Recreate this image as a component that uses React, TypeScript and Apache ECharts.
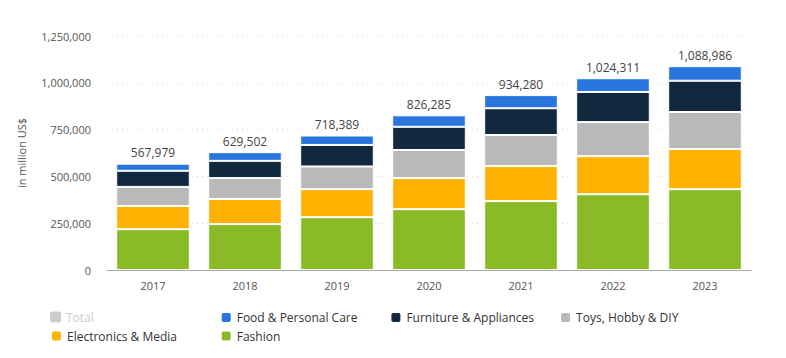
import React, { useEffect, useRef } from "react";
import * as echarts from "echarts";

const years = ["2017", "2018", "2019", "2020", "2021", "2022", "2023"];
const totals = [567979, 629502, 718389, 826285, 934280, 1024311, 1088986];
const fashion = [218000, 245000, 282000, 325000, 368000, 405000, 432000];
const electronics = [124000, 134000, 150000, 166000, 187000, 203000, 214000];
const toys = [102000, 112000, 121000, 150000, 166000, 182000, 198000];
const furniture = [86000, 92000, 115000, 124000, 143000, 161000, 167000];
const food = [37979, 46502, 50389, 61285, 70280, 73311, 77986];
const yTicks = [0, 250000, 500000, 750000, 1000000, 1250000];
const legendNames = [
  "Total",
  "Food & Personal Care",
  "Furniture & Appliances",
  "Toys, Hobby & DIY",
  "Electronics & Media",
  "Fashion",
];

const FONT = "'Open Sans', 'Noto Sans', sans-serif";

export default function App() {
  const ref = useRef<HTMLDivElement>(null);
  useEffect(() => {
    if (!ref.current) return;
    const chart = echarts.init(ref.current, undefined, { renderer: "svg" });
    const barBase = {
      type: "bar" as const,
      stack: "total",
      barCategoryGap: "20%",
      itemStyle: { borderColor: "#ffffff", borderWidth: 1 },
      emphasis: { disabled: true },
    };
    const legends = legendNames.map((name, i) => ({
      data: [name],
      selected: { Total: false },
      left: 42 + (i % 4) * 169.7,
      top: 303 + Math.floor(i / 4) * 18.5,
      icon: "roundRect",
      itemWidth: 11,
      itemHeight: 11,
      itemGap: 6,
      padding: 0,
      inactiveColor: "#cccccc",
      textStyle: { color: "#333333", fontSize: 12, fontFamily: FONT },
    }));
    chart.setOption({
      animation: false,
      textStyle: { fontFamily: FONT },
      grid: { left: 98, right: 27, top: 28, bottom: 80 },
      legend: legends,
      xAxis: {
        type: "category",
        data: years,
        axisLine: { lineStyle: { color: "#aaaaaa", width: 1 } },
        axisTick: { show: false },
        axisLabel: { color: "#555555", fontSize: 11, margin: 10, fontFamily: FONT },
      },
      yAxis: {
        type: "value",
        min: 0,
        max: yTicks[yTicks.length - 1],
        interval: 250000,
        name: "in million US$",
        nameLocation: "middle",
        nameGap: 80,
        nameTextStyle: { color: "#555555", fontSize: 11, fontFamily: FONT },
        axisLabel: {
          color: "#555555",
          fontSize: 11,
          margin: 16,
          fontFamily: FONT,
          formatter: (v: number) => v.toLocaleString("en-US"),
        },
        splitLine: { lineStyle: { color: "#dddddd", type: [1, 4], width: 1 } },
        axisLine: { show: false },
        axisTick: { show: false },
      },
      series: [
        { ...barBase, name: "Fashion", data: fashion, itemStyle: { ...barBase.itemStyle, color: "#8aba26" } },
        { ...barBase, name: "Electronics & Media", data: electronics, itemStyle: { ...barBase.itemStyle, color: "#ffb100" } },
        { ...barBase, name: "Toys, Hobby & DIY", data: toys, itemStyle: { ...barBase.itemStyle, color: "#b9b9b9" } },
        { ...barBase, name: "Furniture & Appliances", data: furniture, itemStyle: { ...barBase.itemStyle, color: "#12283f" } },
        {
          ...barBase,
          name: "Food & Personal Care",
          data: food,
          itemStyle: { ...barBase.itemStyle, color: "#2876dd" },
          label: {
            show: true,
            position: "top",
            distance: 5,
            color: "#444444",
            fontSize: 12,
            fontFamily: FONT,
            formatter: (p: any) => totals[p.dataIndex].toLocaleString("en-US"),
          },
        },
        { type: "bar", name: "Total", data: totals, itemStyle: { color: "#cccccc" } },
      ],
    });
    return () => chart.dispose();
  }, []);
  return <div ref={ref} style={{ width: 770, height: 342 }} />;
}
